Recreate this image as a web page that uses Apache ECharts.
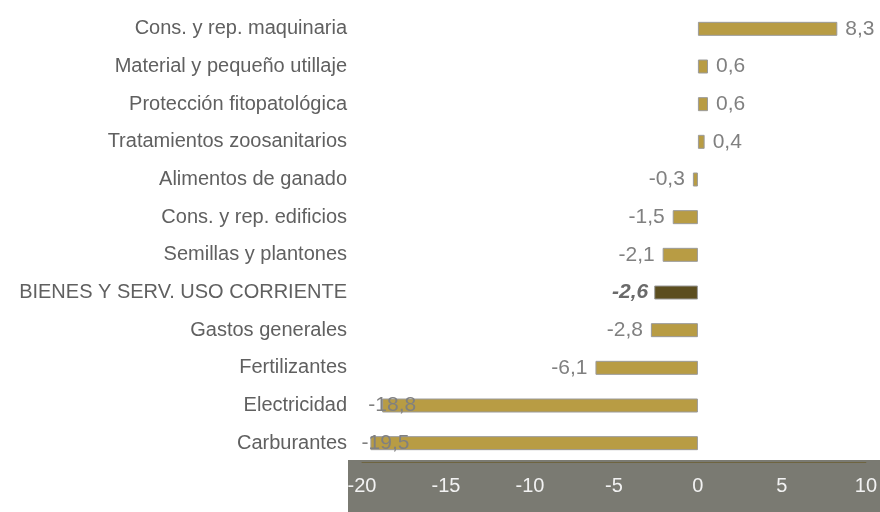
<!DOCTYPE html>
<html>
<head>
<meta charset="utf-8">
<script src="https://cdn.jsdelivr.net/npm/echarts@6/dist/echarts.min.js"></script>
<style>
  html, body { margin: 0; padding: 0; background: #fff; }
  #chart { width: 880px; height: 512px; }
</style>
</head>
<body>
<div id="chart"></div>
<script>
  var categories = ["Cons. y rep. maquinaria", "Material y pequeño utillaje", "Protección fitopatológica",
    "Tratamientos zoosanitarios", "Alimentos de ganado", "Cons. y rep. edificios", "Semillas y plantones",
    "BIENES Y SERV. USO CORRIENTE", "Gastos generales", "Fertilizantes", "Electricidad", "Carburantes"];
  var values = [8.3, 0.6, 0.6, 0.4, -0.3, -1.5, -2.1, -2.6, -2.8, -6.1, -18.8, -19.5];
  var totalName = "BIENES Y SERV. USO CORRIENTE"; // la barra oscura
  var xTicks = [-20, -15, -10, -5, 0, 5, 10];

  var chart = echarts.init(document.getElementById('chart'));

  var seriesData = values.map(function (v, i) {
    var item = { value: v };
    var isTotal = categories[i] === totalName;
    if (isTotal) {
      item.itemStyle = { color: '#5c4e1f' };
    }
    var label = { position: v >= 0 ? 'right' : 'left' };
    if (isTotal) {
      label.fontWeight = 'bold';
      label.fontStyle = 'italic';
      label.color = '#6a6a6a';
      label.distance = 6;
    }
    // las dos barras largas: la etiqueta se pega al borde del área
    if (v < -18) {
      label.offset = [v < -19 ? 47 : 42, 0];
    }
    item.label = label;
    return item;
  });

  var option = {
    backgroundColor: '#fff',
    animation: false,
    graphic: [
      {
        type: 'rect',
        shape: { x: 348, y: 460, width: 532, height: 52 },
        style: { fill: '#7a7a72' },
        z: -10
      }
    ],
    grid: {
      left: 362,
      right: 14,
      top: 10,
      bottom: 50,
      containLabel: false
    },
    xAxis: {
      type: 'value',
      min: xTicks[0],
      max: xTicks[xTicks.length - 1],
      interval: 5,
      position: 'bottom',
      axisLine: { show: true, onZero: false, lineStyle: { color: '#6e6440', width: 1 } },
      axisTick: { show: false },
      splitLine: { show: false },
      axisLabel: {
        color: '#f2f2f2',
        fontSize: 20,
        fontFamily: 'Liberation Sans, Arial, sans-serif',
        margin: 14
      }
    },
    yAxis: {
      type: 'category',
      inverse: true,
      data: categories,
      axisLine: { show: false },
      axisTick: { show: false },
      splitLine: { show: false },
      axisLabel: {
        color: '#606060',
        fontSize: 20,
        fontFamily: 'Liberation Sans, Arial, sans-serif',
        margin: 15
      }
    },
    series: [
      {
        type: 'bar',
        barWidth: 14,
        data: seriesData,
        itemStyle: {
          color: '#b89c44',
          borderColor: '#9a9a9a',
          borderWidth: 1
        },
        label: {
          show: true,
          distance: 8,
          color: '#808080',
          fontSize: 21,
          fontFamily: 'Liberation Sans, Arial, sans-serif',
          formatter: function (p) {
            return String(p.value).replace('.', ',');
          }
        }
      }
    ]
  };

  option && chart.setOption(option);
</script>
</body>
</html>
